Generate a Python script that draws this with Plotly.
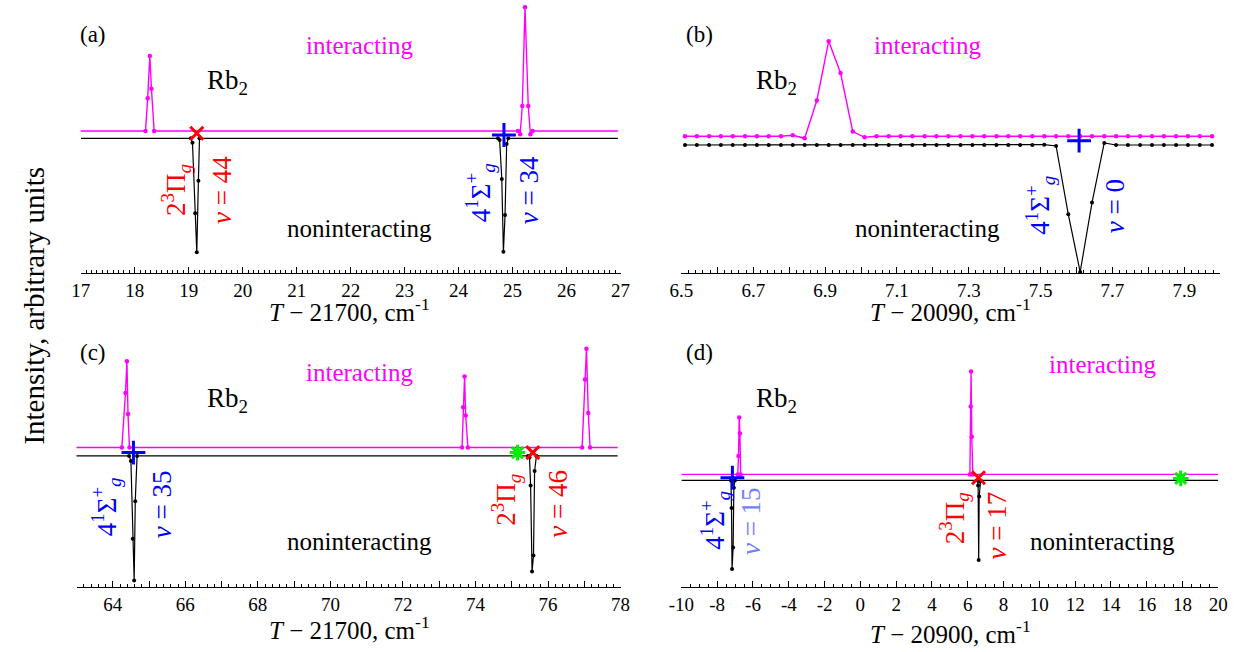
import plotly.graph_objects as go

W, H = 1244, 652
FONT = "Liberation Serif"
MAG = "#ff00ff"

# ---------------- data (arbitrary intensity units) ----------------
# Panel (a): T - 21700
a_int_x = [17.0, 18.20, 18.24, 18.28, 18.31, 18.36, 25.10, 25.14, 25.18, 25.23, 25.29, 25.33, 25.37, 26.95]
a_int_y = [0, 0, 32.8, 75.0, 42.2, 0, 0, -3.3, 25.0, 123.7, 25.0, -3.3, 0, 0]
a_non_x = [17.0, 19.04, 19.07, 19.12, 19.15, 19.18, 19.20, 24.73, 24.76, 24.80, 24.83, 24.86, 24.89, 24.92, 26.95]
a_non_y = [0, 0, 4.4, 75.0, 114.0, 42.4, 0, 0, 1.7, 40.7, 113.4, 76.7, 5.7, 0, 0]
a_state_x = [19.15, 24.84]

# Panel (b): T - 20090
b_x = [6.510, 6.543, 6.577, 6.610, 6.643, 6.677, 6.710, 6.743, 6.777, 6.810,
       6.843, 6.877, 6.910, 6.943, 6.977, 7.010, 7.043, 7.077, 7.110, 7.143,
       7.177, 7.210, 7.243, 7.277, 7.310, 7.343, 7.377, 7.410, 7.443, 7.477,
       7.510, 7.543, 7.577, 7.610, 7.643, 7.677, 7.710, 7.743, 7.777, 7.810,
       7.843, 7.877, 7.910, 7.943, 7.977]
b_int_y = [0, 0, 0, 0, 0, 0, 0, 0, 0, 1.0,
           -2.0, 35.8, 95.1, 63.3, 4.7, -1.0, 0, 0, 0, 0,
           0, 0, 0, 0, 0, 0, 0, 0, 0, 0,
           0, 0, 0, 0, 0, 0, 0, 0, 0, 0,
           0, 0, 0, 0, 0]
b_non_y = [0, 0, 0, 0, 0, 0, 0, 0, 0, 0,
           0, 0, 0, 0, 0, 0, 0, 0, 0, 0,
           0, 0, 0, 0, 0, 0, 0, 0, 0, 0,
           -0.3, 1.0, 69.3, 127.0, 57.6, -2.0, 0, 0, 0, 0,
           0, 0, 0, 0, 0]
b_state_x = [7.607]

# Panel (c): T - 21700
c_int_x = [62.98, 64.25, 64.35, 64.39, 64.42, 64.46, 73.63, 73.66, 73.70, 73.73, 73.79,
           76.94, 77.02, 77.06, 77.11, 77.16, 77.92]
c_int_y = [0, 0, 54.4, 86.2, 33.6, 0, 0, 40.3, 71.1, 31.9, 0, 0, 68.1, 98.7, 34.6, 0, 0]
c_non_x = [62.98, 64.45, 64.50, 64.55, 64.59, 64.62, 64.67, 75.45, 75.49, 75.52, 75.56, 75.60, 75.63, 75.68, 77.92]
c_non_y = [0, 0, 5.0, 82.9, 124.5, 45.3, 0, 0, 1.7, 29.5, 115.7, 99.6, 15.1, 0, 0]
c_state_x = [64.57, 75.16, 75.58]

# Panel (d): T - 20900
d_int_x = [-10.0, -6.85, -6.81, -6.77, -6.73, -6.69, 6.12, 6.165, 6.185, 6.225, 6.285, 20.0]
d_int_y = [0, 0, 18.5, 57.0, 41.0, 0, 0, 67.8, 103.0, 37.6, 0, 0]
d_non_x = [-10.0, -7.23, -7.20, -7.17, -7.11, -7.07, -7.01, 6.54, 6.58, 6.61, 6.64, 6.68, 6.72, 20.0]
d_non_y = [0, 0, 27.5, 88.6, 67.1, 7.4, 0, 0, 5.0, 79.5, 16.0, 1.0, 0, 0]
d_state_x = [-7.15, 6.60, 17.90]

# tick labels
a_ticks = [17, 18, 19, 20, 21, 22, 23, 24, 25, 26, 27]
a_ticktext = ["17", "18", "19", "20", "21", "22", "23", "24", "25", "26", "27"]
b_ticks = [6.5, 6.6, 6.7, 6.8, 6.9, 7.0, 7.1, 7.2, 7.3, 7.4, 7.5, 7.6, 7.7, 7.8, 7.9, 8.0]
b_ticktext = ["6.5", "", "6.7", "", "6.9", "", "7.1", "", "7.3", "", "7.5", "", "7.7", "", "7.9", ""]
c_ticks = [63, 64, 65, 66, 67, 68, 69, 70, 71, 72, 73, 74, 75, 76, 77, 78]
c_ticktext = ["", "64", "", "66", "", "68", "", "70", "", "72", "", "74", "", "76", "", "78"]
d_ticks = [-10, -8, -6, -4, -2, 0, 2, 4, 6, 8, 10, 12, 14, 16, 18, 20]
d_ticktext = ["-10", "-8", "-6", "-4", "-2", "0", "2", "4", "6", "8", "10", "12", "14", "16", "18", "20"]

# ---------------- figure ----------------
fig = go.Figure()

def px(p):
    return p / W

def py(p):
    return 1 - p / H

panels = [
    dict(xa="x", ya="y", ix=a_int_x, iy=a_int_y, nx=a_non_x, ny=a_non_y, off=7.3,
         states=list(zip(a_state_x, ["x", "+"])), sy=[5.0, 3.3], ends=True),
    dict(xa="x2", ya="y2", ix=b_x, iy=b_int_y, nx=b_x, ny=b_non_y, off=8.7,
         states=list(zip(b_state_x, ["+"])), sy=[4.3], ends=False),
    dict(xa="x3", ya="y3", ix=c_int_x, iy=c_int_y, nx=c_non_x, ny=c_non_y, off=8.4,
         states=list(zip(c_state_x, ["+", "*", "x"])), sy=[3.3, 3.3, 3.3], ends=True),
    dict(xa="x4", ya="y4", ix=d_int_x, iy=d_int_y, nx=d_non_x, ny=d_non_y, off=6.0,
         states=list(zip(d_state_x, ["+", "x", "*"])), sy=[2.7, 2.7, 2.0], ends=True),
]

sym_style = {
    "x": dict(symbol="x-thin", color="#ff0000", size=13),
    "+": dict(symbol="cross-thin", color="#0000ff", size=17),
    "*": dict(symbol="asterisk", color="#00ee00", size=13),
}

def opac(n, hide_ends):
    out = [1.0] * n
    if hide_ends:
        out[0] = 0.0
        out[-1] = 0.0
    return out

for p in panels:
    fig.add_trace(go.Scatter(
        x=p["ix"], y=[v + p["off"] for v in p["iy"]], mode="lines+markers",
        line=dict(color=MAG, width=1.4),
        marker=dict(color=MAG, size=4.5, opacity=opac(len(p["ix"]), p["ends"])),
        xaxis=p["xa"], yaxis=p["ya"], showlegend=False, hoverinfo="skip"))
    fig.add_trace(go.Scatter(
        x=p["nx"], y=[-v for v in p["ny"]], mode="lines+markers",
        line=dict(color="black", width=1.2),
        marker=dict(color="black", size=4, opacity=opac(len(p["nx"]), p["ends"])),
        xaxis=p["xa"], yaxis=p["ya"], showlegend=False, hoverinfo="skip"))
    for (sx, kind), yy in zip(p["states"], p["sy"]):
        st = sym_style[kind]
        fig.add_trace(go.Scatter(
            x=[sx], y=[yy], mode="markers",
            marker=dict(symbol=st["symbol"], size=st["size"],
                        line=dict(color=st["color"], width=3), color=st["color"]),
            xaxis=p["xa"], yaxis=p["ya"], showlegend=False, hoverinfo="skip"))

tickfont = dict(family=FONT, size=19, color="black")

def xaxis(domain, rng, tv, tt, minor, anchor):
    return dict(domain=domain, range=rng, anchor=anchor, showline=True, linecolor="black",
                linewidth=1, ticks="inside", ticklen=6, tickwidth=1, tickcolor="black",
                tickvals=tv, ticktext=tt, tickfont=tickfont, showgrid=False, zeroline=False,
                minor=dict(dtick=minor, tick0=rng[0], ticks="inside", ticklen=3,
                           tickwidth=1, tickcolor="black", showgrid=False),
                fixedrange=True)

def yaxis(domain, rng, anchor):
    return dict(domain=domain, range=rng, anchor=anchor, visible=False,
                showgrid=False, zeroline=False, fixedrange=True)

fig.update_layout(
    width=W, height=H, margin=dict(l=0, r=0, t=0, b=0),
    font=dict(family=FONT, color="black"),
    paper_bgcolor="white", plot_bgcolor="white",
    xaxis=xaxis([px(69), px(619)], [17, 27], a_ticks, a_ticktext, 0.1, "y"),
    yaxis=yaxis([py(273), py(0)], [-134.7, 138.3], "x"),
    xaxis2=xaxis([px(681), px(1230)], [6.5, 8.0], b_ticks, b_ticktext, 0.02, "y2"),
    yaxis2=yaxis([py(273), py(0)], [-128, 145], "x2"),
    xaxis3=xaxis([px(64.7), px(619)], [63, 78], c_ticks, c_ticktext, 0.2, "y3"),
    yaxis3=yaxis([py(587), py(325)], [-131.1, 130.9], "x3"),
    xaxis4=xaxis([px(681), px(1228)], [-10, 20], d_ticks, d_ticktext, 0.5, "y4"),
    yaxis4=yaxis([py(587), py(325)], [-106.6, 155.4], "x4"),
)

anns = []

def ann(text, x, y, size=25, color="black", angle=0):
    anns.append(dict(text=text, x=px(x), y=py(y), xref="paper", yref="paper",
                     xanchor="center", yanchor="middle", showarrow=False, textangle=angle,
                     font=dict(family=FONT, size=size, color=color)))

RED, BLUE, LBLUE = "#ff0000", "#0000ff", "#7080ff"
PI = "2<sup>3</sup>Π<sub><i>g</i></sub>"
SIG = "4<sup>1</sup>Σ<sup>+</sup><sub><i>g</i></sub>"

# panel (a)
ann("(a)", 82, 34, 23)
ann("interacting", 353, 45, 25, MAG)
ann("Rb<sub>2</sub>", 219, 82, 27)
ann("noninteracting", 353, 228, 25)
ann(PI, 166, 190, 27, RED, -90)
ann("<i>v</i> = 44", 213, 190, 27, RED, -90)
ann(SIG, 476, 193, 27, BLUE, -90)
ann("<i>v</i> = 34", 526, 190, 27, BLUE, -90)
ann("<i>T</i> − 21700, cm<sup>-1</sup>", 343, 310, 25)

# panel (b)
ann("(b)", 699, 34, 23)
ann("interacting", 932, 45, 25, MAG)
ann("Rb<sub>2</sub>", 778, 82, 27)
ann("noninteracting", 932, 228, 25)
ann(SIG, 1046, 205, 27, BLUE, -90)
ann("<i>v</i> = 0", 1123, 206, 27, BLUE, -90)
ann("<i>T</i> − 20090, cm<sup>-1</sup>", 955, 310, 25)

# panel (c)
ann("(c)", 82, 352, 23)
ann("interacting", 353, 372, 25, MAG)
ann("Rb<sub>2</sub>", 219, 400, 27)
ann("noninteracting", 353, 541, 25)
ann(SIG, 95, 507, 27, BLUE, -90)
ann("<i>v</i> = 35", 152, 504, 27, BLUE, -90)
ann(PI, 502, 500, 27, RED, -90)
ann("<i>v</i> = 46", 555, 504, 27, RED, -90)
ann("<i>T</i> − 21700, cm<sup>-1</sup>", 343, 628, 25)

# panel (d)
ann("(d)", 699, 352, 23)
ann("interacting", 1110, 364, 25, MAG)
ann("Rb<sub>2</sub>", 778, 400, 27)
ann("noninteracting", 1110, 541, 25)
ann(SIG, 715, 520, 27, BLUE, -90)
ann("<i>v</i> = 15", 752, 521, 27, LBLUE, -90)
ann(PI, 959, 518, 27, RED, -90)
ann("<i>v</i> = 17", 1003, 525, 27, RED, -90)
ann("<i>T</i> − 20900, cm<sup>-1</sup>", 955, 632, 25)

ann("Intensity, arbitrary units", 21, 306, 29, "black", -90)

fig.update_layout(annotations=anns)
fig.write_html("out.html")
